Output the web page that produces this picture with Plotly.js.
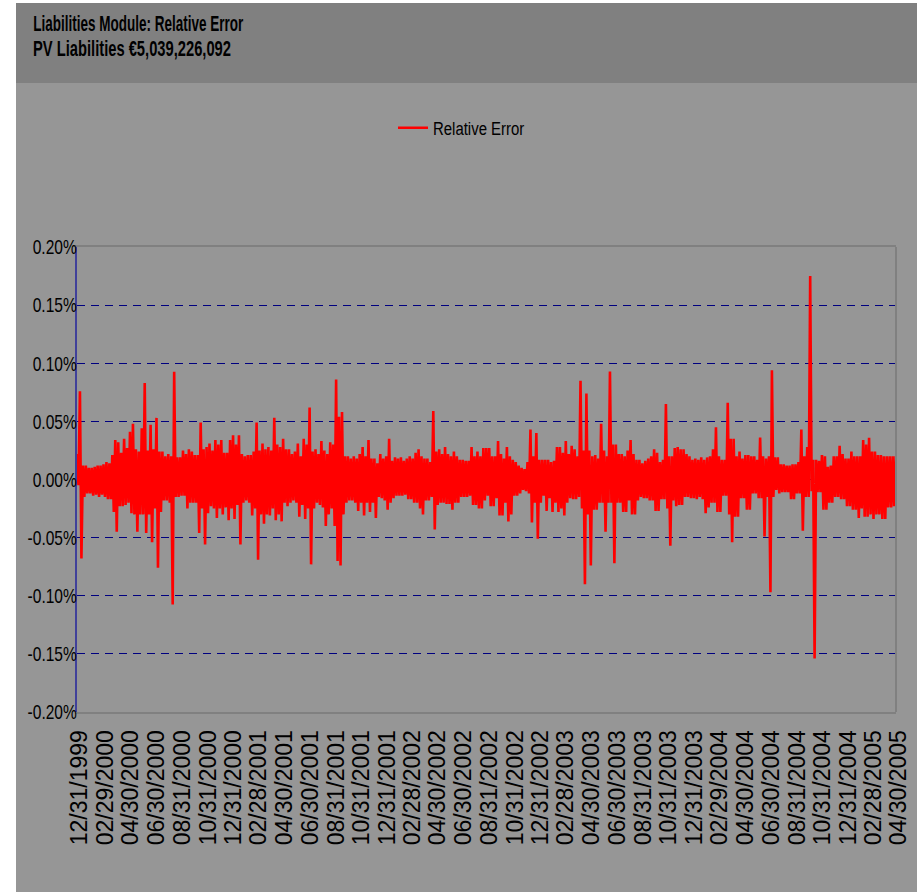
<!DOCTYPE html>
<html><head><meta charset="utf-8">
<script src="https://cdn.plot.ly/plotly-3.0.1.min.js"></script>
<style>
html,body{margin:0;padding:0;background:#ffffff;width:917px;height:892px;overflow:hidden}
#chart{position:absolute;left:16px;top:3px;width:901px;height:889px}
</style></head><body><div id="chart"></div>
<script>
// ---- data: weekly high / low of the relative error (in %), weeks starting 12/31/1999 ----
const seriesName = 'Relative Error';
const startDate = '1999-12-31';
const stepDays = 7;
const weekHigh = [
 0.022, 0.076, 0.012, 0.012, 0.010, 0.010, 0.011, 0.012, 0.012, 0.013,
 0.015, 0.014, 0.021, 0.034, 0.032, 0.023, 0.035, 0.027, 0.041, 0.048,
 0.026, 0.024, 0.044, 0.083, 0.025, 0.047, 0.026, 0.053, 0.024, 0.024,
 0.020, 0.022, 0.020, 0.0926, 0.019, 0.019, 0.025, 0.022, 0.026, 0.024,
 0.021, 0.021, 0.049, 0.026, 0.028, 0.031, 0.025, 0.034, 0.030, 0.034,
 0.023, 0.023, 0.034, 0.038, 0.030, 0.038, 0.022, 0.020, 0.021, 0.021,
 0.024, 0.049, 0.025, 0.031, 0.026, 0.028, 0.025, 0.053, 0.030, 0.028,
 0.035, 0.026, 0.026, 0.022, 0.024, 0.031, 0.020, 0.035, 0.030, 0.062,
 0.024, 0.026, 0.022, 0.033, 0.025, 0.022, 0.032, 0.030, 0.086, 0.054,
 0.058, 0.020, 0.020, 0.018, 0.020, 0.018, 0.022, 0.028, 0.020, 0.034,
 0.018, 0.018, 0.014, 0.022, 0.018, 0.020, 0.035, 0.016, 0.019, 0.018,
 0.019, 0.016, 0.018, 0.020, 0.018, 0.023, 0.026, 0.020, 0.018, 0.018,
 0.015, 0.059, 0.024, 0.026, 0.022, 0.028, 0.022, 0.020, 0.024, 0.020,
 0.017, 0.017, 0.016, 0.016, 0.028, 0.020, 0.024, 0.020, 0.027, 0.027,
 0.027, 0.020, 0.020, 0.033, 0.022, 0.018, 0.028, 0.020, 0.017, 0.015,
 0.012, 0.010, 0.009, 0.015, 0.043, 0.020, 0.040, 0.017, 0.017, 0.017,
 0.017, 0.015, 0.016, 0.028, 0.028, 0.023, 0.033, 0.022, 0.029, 0.026,
 0.020, 0.085, 0.025, 0.074, 0.025, 0.020, 0.021, 0.018, 0.048, 0.025,
 0.020, 0.093, 0.030, 0.030, 0.022, 0.022, 0.020, 0.025, 0.034, 0.022,
 0.017, 0.017, 0.014, 0.016, 0.018, 0.020, 0.026, 0.023, 0.015, 0.017,
 0.065, 0.020, 0.020, 0.027, 0.028, 0.026, 0.026, 0.022, 0.020, 0.017,
 0.018, 0.017, 0.019, 0.017, 0.019, 0.020, 0.026, 0.045, 0.020, 0.017,
 0.017, 0.066, 0.035, 0.035, 0.020, 0.024, 0.018, 0.021, 0.021, 0.020,
 0.020, 0.017, 0.036, 0.020, 0.018, 0.020, 0.094, 0.019, 0.019, 0.013,
 0.013, 0.012, 0.012, 0.013, 0.013, 0.015, 0.043, 0.020, 0.028, 0.175,
 0.017, 0.017, 0.016, 0.021, 0.020, 0.011, 0.012, 0.020, 0.020, 0.029,
 0.022, 0.018, 0.018, 0.024, 0.020, 0.020, 0.020, 0.034, 0.030, 0.036,
 0.024, 0.024, 0.021, 0.021, 0.020, 0.020, 0.020, 0.020, 0.020
];
const weekLow = [
 -0.005, -0.068, -0.015, -0.012, -0.012, -0.014, -0.013, -0.015, -0.013, -0.015,
 -0.017, -0.017, -0.028, -0.045, -0.023, -0.023, -0.022, -0.020, -0.029, -0.030,
 -0.045, -0.030, -0.030, -0.046, -0.030, -0.054, -0.025, -0.076, -0.028, -0.018,
 -0.018, -0.020, -0.1076, -0.015, -0.015, -0.014, -0.014, -0.025, -0.020, -0.020,
 -0.020, -0.046, -0.025, -0.056, -0.029, -0.023, -0.025, -0.033, -0.025, -0.030,
 -0.024, -0.035, -0.025, -0.034, -0.022, -0.056, -0.020, -0.018, -0.020, -0.031,
 -0.025, -0.069, -0.030, -0.038, -0.030, -0.031, -0.025, -0.035, -0.030, -0.036,
 -0.020, -0.023, -0.020, -0.018, -0.020, -0.032, -0.022, -0.034, -0.025, -0.073,
 -0.025, -0.020, -0.022, -0.024, -0.040, -0.030, -0.025, -0.040, -0.070, -0.074,
 -0.030, -0.020, -0.018, -0.018, -0.020, -0.027, -0.020, -0.031, -0.020, -0.028,
 -0.020, -0.033, -0.015, -0.016, -0.018, -0.026, -0.020, -0.016, -0.014, -0.014,
 -0.014, -0.013, -0.017, -0.017, -0.020, -0.020, -0.025, -0.030, -0.018, -0.018,
 -0.015, -0.043, -0.022, -0.020, -0.020, -0.021, -0.021, -0.026, -0.020, -0.020,
 -0.015, -0.015, -0.015, -0.014, -0.022, -0.022, -0.025, -0.025, -0.018, -0.014,
 -0.023, -0.023, -0.016, -0.031, -0.031, -0.020, -0.036, -0.030, -0.014, -0.014,
 -0.012, -0.009, -0.010, -0.012, -0.037, -0.020, -0.051, -0.020, -0.014, -0.027,
 -0.016, -0.028, -0.020, -0.028, -0.025, -0.031, -0.020, -0.016, -0.017, -0.017,
 -0.015, -0.025, -0.090, -0.030, -0.074, -0.026, -0.026, -0.020, -0.020, -0.045,
 -0.020, -0.020, -0.072, -0.020, -0.020, -0.028, -0.028, -0.018, -0.030, -0.030,
 -0.018, -0.015, -0.016, -0.016, -0.018, -0.018, -0.027, -0.027, -0.017, -0.017,
 -0.025, -0.057, -0.018, -0.023, -0.022, -0.022, -0.015, -0.015, -0.016, -0.016,
 -0.017, -0.015, -0.017, -0.029, -0.024, -0.020, -0.020, -0.028, -0.028, -0.014,
 -0.014, -0.030, -0.054, -0.032, -0.032, -0.016, -0.016, -0.026, -0.026, -0.012,
 -0.012, -0.016, -0.016, -0.049, -0.015, -0.097, -0.015, -0.009, -0.012, -0.011,
 -0.011, -0.011, -0.017, -0.017, -0.012, -0.012, -0.044, -0.015, -0.015, -0.010,
 -0.154, -0.011, -0.011, -0.026, -0.026, -0.020, -0.020, -0.015, -0.015, -0.017,
 -0.017, -0.023, -0.023, -0.026, -0.026, -0.033, -0.025, -0.032, -0.032, -0.030,
 -0.034, -0.030, -0.030, -0.034, -0.034, -0.024, -0.024, -0.023, -0.027
];
const xTickLabels = [
 '12/31/1999','02/29/2000','04/30/2000','06/30/2000','08/31/2000','10/31/2000',
 '12/31/2000','02/28/2001','04/30/2001','06/30/2001','08/31/2001','10/31/2001',
 '12/31/2001','02/28/2002','04/30/2002','06/30/2002','08/31/2002','10/31/2002',
 '12/31/2002','02/28/2003','04/30/2003','06/30/2003','08/31/2003','10/31/2003',
 '12/31/2003','02/29/2004','04/30/2004','06/30/2004','08/31/2004','10/31/2004',
 '12/31/2004','02/28/2005','04/30/2005'
];
const yTickVals = [-0.20, -0.15, -0.10, -0.05, 0.00, 0.05, 0.10, 0.15, 0.20];
const yTickText = ['-0.20%','-0.15%','-0.10%','-0.05%','0.00%','0.05%','0.10%','0.15%','0.20%'];
const titleLine1 = 'Liabilities Module: Relative Error';
const titleLine2 = 'PV Liabilities €5,039,226,092';

// ---- build: each week contributes its high, then its low half a week later ----
const DAY = 86400000;
const t0 = Date.parse(startDate + 'T00:00:00Z');
const iso = ms => new Date(ms).toISOString().slice(0, 19).replace('T', ' ');
const xs = [], ys = [];
weekHigh.forEach((h, i) => {
  const t = t0 + i * stepDays * DAY;
  xs.push(iso(t)); ys.push(h);
  xs.push(iso(t + stepDays * DAY / 2)); ys.push(weekLow[i]);
});
const xTickVals = xTickLabels.map(s => s.slice(6) + '-' + s.slice(0, 2) + '-' + s.slice(3, 5));

const W = 901, H = 889, L = 61, R = 21, T = 244, B = 180;
const plotW = W - L - R, plotH = H - T - B;
const px = d => (d - L) / plotW;
const py = d => (H - B - d) / plotH;

const SANS = '"Liberation Sans", Arial, sans-serif';

const trace = {
  type: 'scatter', mode: 'lines', name: seriesName,
  x: xs, y: ys,
  line: { color: '#ff0000', width: 2.6 },
  hoverinfo: 'skip'
};

const layout = {
  width: W, height: H,
  margin: { l: L, r: R, t: T, b: B, pad: 0 },
  paper_bgcolor: '#969696', plot_bgcolor: '#969696',
  showlegend: true,
  legend: {
    x: px(377), y: py(125), xanchor: 'left', yanchor: 'middle',
    bgcolor: 'rgba(0,0,0,0)', borderwidth: 0,
    font: { family: SANS, size: 18, color: '#000000' }
  },
  xaxis: {
    type: 'date', range: [startDate, '2005-04-30'],
    tickmode: 'array', tickvals: xTickVals, ticktext: xTickLabels,
    tickangle: -90, ticks: '', showgrid: false, zeroline: false,
    showline: true, linecolor: '#808080', linewidth: 2, mirror: true,
    tickfont: { family: SANS, size: 23, color: '#000000' },
    ticklabelstandoff: 7, ticklabelshift: 3
  },
  yaxis: {
    range: [-0.2, 0.2], tickmode: 'array', tickvals: yTickVals, ticktext: yTickText,
    ticks: '', showgrid: true, gridcolor: '#000080', gridwidth: 1, griddash: '8px,6px',
    zeroline: false, showline: true, linecolor: '#40409a', linewidth: 2,
    tickfont: { family: SANS, size: 21, color: '#000000' },
    ticklabelstandoff: -2
  },
  shapes: [
    { type: 'rect', xref: 'paper', yref: 'paper', x0: px(0), x1: px(W), y0: py(80), y1: py(0),
      fillcolor: '#808080', line: { width: 0 }, layer: 'below' },
    { type: 'line', xref: 'paper', yref: 'paper', x0: 1, x1: 1, y0: 0, y1: 1,
      line: { color: '#808080', width: 2 }, layer: 'above' }
  ],
  annotations: [
    { text: titleLine1, xref: 'paper', yref: 'paper', x: px(17 + 105), y: py(20.5),
      xanchor: 'center', yanchor: 'middle', showarrow: false,
      font: { family: SANS, size: 22, color: '#000000', weight: 700 } },
    { text: titleLine2, xref: 'paper', yref: 'paper', x: px(17 + 99), y: py(45.5),
      xanchor: 'center', yanchor: 'middle', showarrow: false,
      font: { family: SANS, size: 22, color: '#000000', weight: 700 } }
  ]
};

// Excel-style condensed text: squeeze glyphs horizontally
function squeeze(el, target) {
  const w = el.getComputedTextLength();
  if (!w) return;
  el.setAttribute('textLength', target.toFixed(1));
  el.setAttribute('lengthAdjust', 'spacingAndGlyphs');
}
function condense(gd) {
  const ann = gd.querySelectorAll('.annotation-text');
  if (ann[0]) squeeze(ann[0], 210);
  if (ann[1]) squeeze(ann[1], 198);
  gd.querySelectorAll('.ytick text').forEach(el => {
    squeeze(el, el.getComputedTextLength() * 0.74);
    el.setAttribute('x', (parseFloat(el.getAttribute('x')) || 0) + 4);
  });
  gd.querySelectorAll('.legendtext').forEach(el => squeeze(el, el.getComputedTextLength() * 0.83));
}

Plotly.newPlot('chart', [trace], layout, { displayModeBar: false, staticPlot: true })
  .then(gd => condense(gd));
</script></body></html>
